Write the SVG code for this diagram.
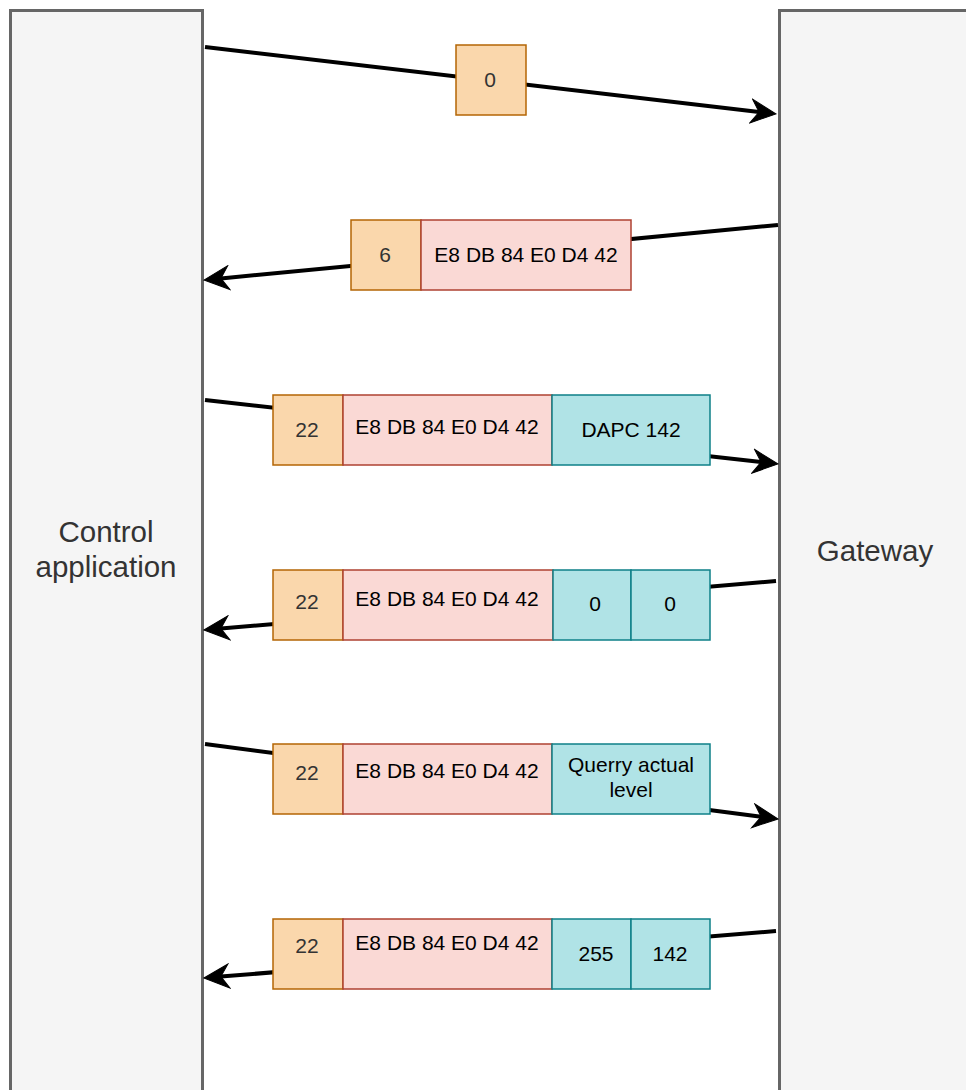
<svg xmlns="http://www.w3.org/2000/svg" width="966" height="1090" viewBox="0 0 966 1090">
<style>
.side{fill:#f5f5f5;stroke:#666666;stroke-width:3}
.sidetxt{font-family:"Liberation Sans",Arial,sans-serif;font-size:29.5px;fill:#333333;text-anchor:middle}
.or{fill:#fad7ac;stroke:#b46504;stroke-width:1.5}
.pk{fill:#fad9d5;stroke:#ae4132;stroke-width:1.5}
.tl{fill:#b0e3e6;stroke:#0e8088;stroke-width:1.5}
.t{font-family:"Liberation Sans",Arial,sans-serif;font-size:21px;fill:#000000;text-anchor:middle}
.tg{font-family:"Liberation Sans",Arial,sans-serif;font-size:21px;fill:#333333;text-anchor:middle}
.ln{fill:none;stroke:#000000;stroke-width:4;marker-end:url(#arr)}
</style>
<defs>
<marker id="arr" markerUnits="userSpaceOnUse" viewBox="-26 -13 28 26" refX="-17" refY="0" markerWidth="28" markerHeight="26" orient="auto">
<path d="M0,0 L-25,-12 L-17,0 L-25,12 Z" fill="#000000" stroke="#000000" stroke-width="1" stroke-linejoin="miter"/>
</marker>
</defs>
<g id="control-application">
<rect class="side" x="10.5" y="10.5" width="192" height="1100"/>
<text class="sidetxt" x="106" y="542">Control</text>
<text class="sidetxt" x="106" y="577">application</text>
</g>
<g id="gateway">
<rect class="side" x="779.5" y="10.5" width="200" height="1100"/>
<text class="sidetxt" x="875" y="561">Gateway</text>
</g>
<g id="connectors">
<line class="ln" x1="205" y1="47" x2="759.1" y2="112"/>
<line class="ln" x1="778" y1="225" x2="220.9" y2="278.4"/>
<line class="ln" x1="205" y1="400" x2="761.1" y2="462.1"/>
<line class="ln" x1="776" y1="581" x2="220.9" y2="628.5"/>
<line class="ln" x1="205" y1="744" x2="761.1" y2="816.8"/>
<line class="ln" x1="776" y1="931" x2="220.9" y2="976.6"/>
</g>
<g id="msg1">
<rect class="or" x="456" y="45" width="70" height="70"/>
<text class="tg" x="490" y="87">0</text>
</g>
<g id="msg2">
<rect class="or" x="351" y="220" width="70" height="70"/>
<text class="tg" x="385" y="262">6</text>
<rect class="pk" x="421" y="220" width="210" height="70"/>
<text class="t" x="526" y="262">E8 DB 84 E0 D4 42</text>
</g>
<g id="msg3">
<rect class="or" x="273" y="395" width="70" height="70"/>
<text class="tg" x="307" y="437">22</text>
<rect class="pk" x="343" y="395" width="209" height="70"/>
<text class="t" x="447" y="434">E8 DB 84 E0 D4 42</text>
<rect class="tl" x="552" y="395" width="158" height="70"/>
<text class="t" x="631" y="437">DAPC 142</text>
</g>
<g id="msg4">
<rect class="or" x="273" y="570" width="70" height="70"/>
<text class="tg" x="307" y="609">22</text>
<rect class="pk" x="343" y="570" width="210" height="70"/>
<text class="t" x="447" y="606">E8 DB 84 E0 D4 42</text>
<rect class="tl" x="553" y="570" width="78" height="70"/>
<text class="t" x="595" y="611">0</text>
<rect class="tl" x="631" y="570" width="79" height="70"/>
<text class="t" x="670" y="611">0</text>
</g>
<g id="msg5">
<rect class="or" x="273" y="744" width="70" height="70"/>
<text class="tg" x="307" y="780">22</text>
<rect class="pk" x="343" y="744" width="209" height="70"/>
<text class="t" x="447" y="778">E8 DB 84 E0 D4 42</text>
<rect class="tl" x="552" y="744" width="158" height="70"/>
<text class="t" x="631" y="772">Querry actual</text>
<text class="t" x="631" y="797">level</text>
</g>
<g id="msg6">
<rect class="or" x="273" y="919" width="70" height="70"/>
<text class="tg" x="307" y="953">22</text>
<rect class="pk" x="343" y="919" width="209" height="70"/>
<text class="t" x="447" y="950">E8 DB 84 E0 D4 42</text>
<rect class="tl" x="552" y="919" width="79" height="70"/>
<text class="t" x="596" y="961">255</text>
<rect class="tl" x="631" y="919" width="79" height="70"/>
<text class="t" x="670" y="961">142</text>
</g>
</svg>
